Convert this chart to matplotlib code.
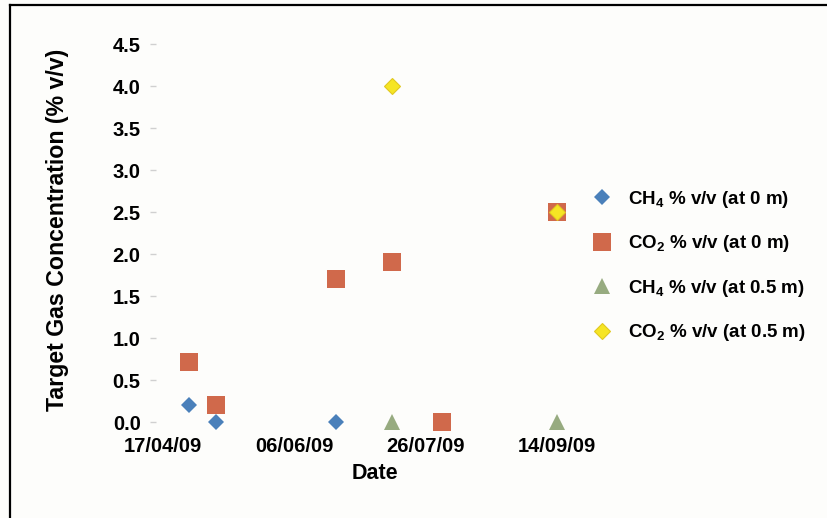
import datetime as dt
import matplotlib
matplotlib.use('Agg')
import matplotlib.pyplot as plt
import matplotlib.dates as mdates
from matplotlib.lines import Line2D

plt.rcParams['font.family'] = ['Liberation Sans', 'DejaVu Sans']
plt.rcParams['font.weight'] = 'bold'
plt.rcParams['mathtext.fontset'] = 'custom'
plt.rcParams['mathtext.rm'] = 'Liberation Sans:bold'
plt.rcParams['mathtext.it'] = 'Liberation Sans:bold'
plt.rcParams['mathtext.bf'] = 'Liberation Sans:bold'

# data
ch4_0_dates = ['27/04/09', '07/05/09', '22/06/09']
ch4_0_vals = [0.2, 0.0, 0.0]
co2_0_dates = ['27/04/09', '07/05/09', '22/06/09', '13/07/09', '01/08/09', '14/09/09']
co2_0_vals = [0.72, 0.2, 1.7, 1.9, 0.0, 2.5]
ch4_05_dates = ['13/07/09', '14/09/09']
ch4_05_vals = [0.0, 0.0]
co2_05_dates = ['13/07/09', '14/09/09']
co2_05_vals = [4.0, 2.5]

tick_dates = ['17/04/09', '06/06/09', '26/07/09', '14/09/09']
y_ticks = [0.0, 0.5, 1.0, 1.5, 2.0, 2.5, 3.0, 3.5, 4.0, 4.5]


def to_date(s):
    return dt.datetime.strptime(s, '%d/%m/%y')


bg = '#fdfdfb'
fig = plt.figure(figsize=(8.28, 5.18), dpi=100, facecolor=bg)
ax = fig.add_axes([0.1884, 0.1853, 0.512, 0.7297])
ax.set_facecolor(bg)

ax.plot([to_date(d) for d in ch4_0_dates], ch4_0_vals, 'D', color='#4a80ba',
        markersize=8.5, markeredgewidth=0, clip_on=False, label=r'CH$_4$ % v/v (at 0 m)')
ax.plot([to_date(d) for d in co2_0_dates], co2_0_vals, 's', color='#d0694b',
        markersize=13.5, markeredgewidth=0, clip_on=False, label=r'CO$_2$ % v/v (at 0 m)')
ax.plot([to_date(d) for d in ch4_05_dates], ch4_05_vals, '^', color='#97ab80',
        markersize=11, markeredgewidth=0, clip_on=False, label=r'CH$_4$ % v/v (at 0.5 m)')
ax.plot([to_date(d) for d in co2_05_dates], co2_05_vals, 'D', color='#f6e524',
        markersize=8, markeredgecolor='#e0c820', markeredgewidth=0.8, clip_on=False,
        label=r'CO$_2$ % v/v (at 0.5 m)')

start = to_date(tick_dates[0])
ax.set_xlim(start - dt.timedelta(days=2.7), start + dt.timedelta(days=158.7))
ax.set_ylim(0, 4.5)
ax.set_xticks([to_date(d) for d in tick_dates])
ax.xaxis.set_major_formatter(mdates.DateFormatter('%d/%m/%y'))
ax.set_yticks(y_ticks)
ax.set_yticklabels(['%.1f' % v for v in y_ticks])

for s in ax.spines.values():
    s.set_visible(False)
ax.tick_params(axis='x', length=0, pad=11, labelsize=14.5)
ax.tick_params(axis='y', length=4, width=1, color='#d0d0d0', pad=7, labelsize=14.5)

ax.set_xlabel('Date', fontsize=15.5, fontweight='bold')
ax.set_ylabel('Target Gas Concentration (% v/v)', fontsize=16.7, fontweight='bold')
# label positions in pixels from the picture
ax.xaxis.set_label_coords((375 - 156) / 424, -(473 - 422) / 378)
ax.yaxis.set_label_coords(-(156 - 57) / 424, (422 - 230) / 378)
ax.xaxis.label.set_va('center')
ax.yaxis.label.set_va('center')

fig.legend(loc='center left', bbox_to_anchor=(592.6 / 828, 1 - 266 / 518),
           frameon=False, fontsize=13.5, handlelength=1.0, handletextpad=0.9,
           labelspacing=1.25, borderpad=0, borderaxespad=0, numpoints=1)

# outer frame (top and left edges only)
fig.add_artist(Line2D([10 / 828, 1], [1 - 5 / 518, 1 - 5 / 518], transform=fig.transFigure,
                      color='black', lw=1.6))
fig.add_artist(Line2D([10 / 828, 10 / 828], [0, 1 - 5 / 518], transform=fig.transFigure,
                      color='black', lw=1.6))

fig.savefig('out.png', dpi=100, facecolor=bg)
